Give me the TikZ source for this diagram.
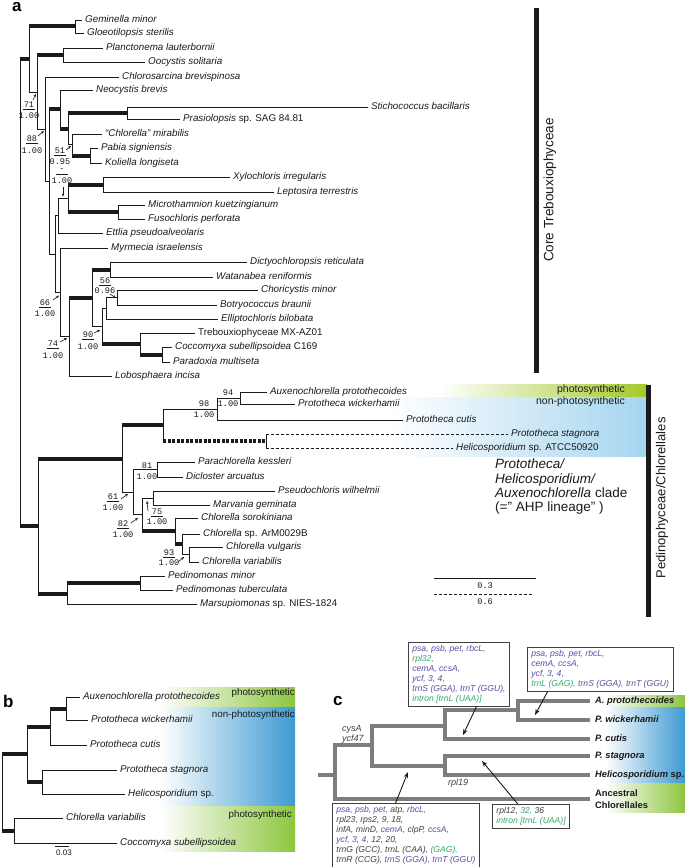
\documentclass[tikz,border=0pt]{standalone}
\usepackage{fontspec}
\setmainfont{Liberation Sans}
\newfontfamily\monof{Liberation Mono}
\usetikzlibrary{arrows.meta,calc}
\definecolor{purp}{HTML}{5A4EA2}
\definecolor{grn}{HTML}{38A96C}
\definecolor{gtx}{HTML}{404040}
\definecolor{ggreen}{HTML}{8DC63F}
\definecolor{gblue}{HTML}{3D9AD2}
\definecolor{lblue}{HTML}{A5D5F0}
\definecolor{lgreen}{HTML}{A3C928}
\definecolor{treec}{HTML}{7D7D7D}
\definecolor{ink}{HTML}{1A1A1A}
\tikzset{
  br/.style={line width=0.9pt, draw=ink},
  tk/.style={line width=4pt, draw=ink},
  tkd/.style={line width=4pt, draw=ink, dash pattern=on 3.2pt off 1.3pt},
  dsh/.style={dash pattern=on 3pt off 2pt},
  lfs/.style={anchor=west, inner xsep=3pt, inner ysep=0pt, text=ink,
    font=\fontsize{9.8}{11}\selectfont\itshape, text height=7pt, text depth=1.5pt},
  bsn/.style={font=\monof\fontsize{8.6}{9}\selectfont, inner sep=0pt, text=ink},
  bsl/.style={line width=0.5pt, draw=ink},
  bsa/.style={line width=0.6pt, draw=ink, -{Stealth[length=3pt,width=2.6pt]}},
  ctr/.style={line width=3.2pt, draw=treec},
  clf/.style={anchor=west, inner xsep=5pt, inner ysep=0pt, text=ink,
    font=\fontsize{9.3}{10.5}\selectfont\bfseries\itshape, text height=7pt, text depth=1.5pt},
  gbox/.style={draw=gtx, line width=0.8pt, anchor=north west, align=left,
    inner xsep=4pt, inner ysep=3pt, font=\fontsize{8.6}{10}\selectfont\itshape},
  carr/.style={line width=0.9pt, draw=ink, -{Stealth[length=6pt,width=4.5pt]}},
  plab/.style={anchor=base west, inner sep=0pt, font=\fontsize{17}{17}\selectfont\bfseries},
}
\newcommand\lf[5]{\coordinate (#1) at (#3,#4); \draw[br] (#2) |- (#1); \node[lfs] (#1t) at (#1) {#5};}
\newcommand\ed[2]{\draw[br] (#1) |- (#2);}
\newcommand\et[2]{\draw[br] (#1) |- (#2); \draw[tk] (#1 |- #2) -- (#2);}
\newcommand\bsu[6]{\node[bsn] (#1a) at (#2,#3) {#4}; \draw[bsl] (#2-6,#3+4.5) -- (#2+6,#3+4.5); \node[bsn] (#1b) at (#2,#5) {#6};}
\newcommand\bsp[6]{\node[bsn] (#1a) at (#2,#3) {#4}; \node[bsn] (#1b) at (#2,#5) {#6};}
\begin{document}
\begin{tikzpicture}[x=1pt,y=-1pt]
\useasboundingbox (0,0) rectangle (685,867);
\fill[white] (0,0) rectangle (685,867);
% ---------- shadings
\shade[left color=white, right color=lgreen] (440,384) rectangle (647,397);
\shade[left color=white, right color=lblue] (390,397) rectangle (647,456);
\shade[left color=white, right color=ggreen] (160,687) rectangle (295,707);
\shade[left color=white, right color=gblue] (160,707) rectangle (295,806);
\shade[left color=white, right color=ggreen] (160,806) rectangle (295,851);
\shade[left color=white, right color=ggreen] (605,695) rectangle (685,707);
\shade[left color=white, right color=gblue] (605,707) rectangle (685,783);
\shade[left color=white, right color=ggreen] (605,783) rectangle (685,812);
% ---------- panel a
\node[plab] (la) at (12,12) {a};
\coordinate (nR) at (20,292.7);
\coordinate (nA) at (29,59.3);
\coordinate (nGG) at (75,26.5);
\coordinate (nB) at (37,92.2);
\coordinate (nPO) at (63,55);
\coordinate (nC) at (45,129.35);
\coordinate (nD) at (49,181.7);
\coordinate (nE) at (60,109.4);
\coordinate (nE2) at (68,128.9);
\coordinate (nSP) at (127,113);
\coordinate (nG) at (72,144.75);
\coordinate (nPK) at (90,155.5);
\coordinate (nF) at (55,254);
\coordinate (nI) at (58,215.6);
\coordinate (nH) at (68,198.25);
\coordinate (nXL) at (103,184.5);
\coordinate (nMF) at (118,212);
\coordinate (nJ) at (60,292.4);
\coordinate (nK) at (69,336.9);
\coordinate (nL) at (92,297.75);
\coordinate (nDW) at (110,269.5);
\coordinate (nM) at (102,326);
\coordinate (nN) at (106,308.25);
\coordinate (nCB) at (117,297.5);
\coordinate (nO) at (140,343.75);
\coordinate (nCP) at (162,354.5);
\coordinate (nP) at (38,526);
\coordinate (nCHL) at (122,458.5);
\coordinate (nAHP) at (163,425);
\coordinate (nQ) at (217,409);
\coordinate (nAW) at (240,398);
\coordinate (nSH) at (266,441);
\coordinate (nN61) at (133,492);
\coordinate (nPD) at (157,469.5);
\coordinate (nN82) at (142,514.6);
\coordinate (nPM) at (153,498);
\coordinate (nSO) at (175,531.1);
\coordinate (nAV) at (182,544.25);
\coordinate (nVV) at (189,554.5);
\coordinate (nPED) at (67,593.5);
\coordinate (nPP) at (140,583);
% internal edges
\et{nR}{nA} \et{nR}{nP}
\et{nA}{nGG} \ed{nA}{nB}
\et{nB}{nPO} \ed{nB}{nC}
\ed{nC}{nD}
\et{nD}{nE} \ed{nD}{nF}
\et{nE}{nE2}
\et{nE2}{nSP} \ed{nE2}{nG}
\et{nG}{nPK}
\ed{nF}{nI} \ed{nF}{nJ}
\ed{nI}{nH}
\et{nH}{nXL} \et{nH}{nMF}
\ed{nJ}{nK}
\et{nK}{nL}
\et{nL}{nDW} \ed{nL}{nM}
\ed{nM}{nN} \et{nM}{nO}
\ed{nN}{nCB}
\et{nO}{nCP}
\et{nP}{nCHL} \et{nP}{nPED}
\et{nCHL}{nAHP} \ed{nCHL}{nN61}
\ed{nAHP}{nQ}
\draw[br] (nAHP) -- (nAHP |- nSH);
\draw[tkd] (nAHP |- nSH) -- (nSH);
\ed{nQ}{nAW}
\ed{nN61}{nPD} \ed{nN61}{nN82}
\ed{nN82}{nPM} \et{nN82}{nSO}
\et{nSO}{nAV}
\ed{nAV}{nVV}
\et{nPED}{nPP}
% leaves
\lf{gem}{nGG}{82}{20}{Geminella minor}
\lf{glo}{nGG}{84}{33}{Gloeotilopsis sterilis}
\lf{pla}{nPO}{103}{48}{Planctonema lauterbornii}
\lf{ooc}{nPO}{145}{62}{Oocystis solitaria}
\lf{chs}{nC}{119}{77}{Chlorosarcina brevispinosa}
\lf{neo}{nE}{93}{90}{Neocystis brevis}
\lf{sti}{nSP}{368}{107}{Stichococcus bacillaris}
\lf{pra}{nSP}{180}{119}{Prasiolopsis\textup{ sp. SAG 84.81}}
\lf{mir}{nG}{102}{134}{“Chlorella” mirabilis}
\lf{pab}{nPK}{98}{148}{Pabia signiensis}
\lf{kol}{nPK}{102}{163}{Koliella longiseta}
\lf{xyl}{nXL}{230}{177}{Xylochloris irregularis}
\lf{lep}{nXL}{274}{192}{Leptosira terrestris}
\lf{mic}{nMF}{145}{205}{Microthamnion kuetzingianum}
\lf{fus}{nMF}{145}{219}{Fusochloris perforata}
\lf{ett}{nI}{103}{233}{Ettlia pseudoalveolaris}
\lf{myr}{nJ}{108}{248}{Myrmecia israelensis}
\lf{dic}{nDW}{247}{262}{Dictyochloropsis reticulata}
\lf{wat}{nDW}{213}{277}{Watanabea reniformis}
\lf{cho}{nCB}{258}{290}{Choricystis minor}
\lf{bot}{nCB}{217}{305}{Botryococcus braunii}
\lf{ell}{nN}{218}{319}{Elliptochloris bilobata}
\lf{mxa}{nO}{195}{333}{\textup{Trebouxiophyceae MX-AZ01}}
\lf{coc}{nCP}{172}{347}{Coccomyxa subellipsoidea\textup{ C169}}
\lf{par}{nCP}{170}{362}{Paradoxia multiseta}
\lf{lob}{nK}{112}{376}{Lobosphaera incisa}
\lf{aux}{nAW}{267}{392}{Auxenochlorella protothecoides}
\lf{pwi}{nAW}{295}{404}{Prototheca wickerhamii}
\lf{pcu}{nQ}{403}{420}{Prototheca cutis}
\coordinate (sta) at (508,434);
\coordinate (hel) at (453,448);
\draw[br] (nSH |- sta) -- (nSH |- hel);
\draw[br,dsh] (nSH |- sta) -- (sta);
\draw[br,dsh] (nSH |- hel) -- (hel);
\node[lfs] (stat) at (sta) {Prototheca stagnora};
\node[lfs] (helt) at (hel) {Helicosporidium\textup{ sp. ATCC50920}};
\lf{pke}{nPD}{195}{462}{Parachlorella kessleri}
\lf{dcl}{nPD}{183}{477}{Dicloster arcuatus}
\lf{pse}{nPM}{275}{491}{Pseudochloris wilhelmii}
\lf{mar}{nPM}{210}{505}{Marvania geminata}
\lf{sor}{nSO}{198}{518}{Chlorella sorokiniana}
\lf{arm}{nAV}{200}{534}{Chlorella\textup{ sp. ArM0029B}}
\lf{vul}{nVV}{223}{547}{Chlorella vulgaris}
\lf{var}{nVV}{199}{562}{Chlorella variabilis}
\lf{pmi}{nPP}{165}{576}{Pedinomonas minor}
\lf{ptu}{nPP}{173}{590}{Pedinomonas tuberculata}
\lf{msp}{nPED}{197}{604}{Marsupiomonas\textup{ sp. NIES-1824}}
% support values
\bsu{s71}{29}{105}{71}{116}{1.00}
\draw[bsa] (33,100) -- (36,94);
\bsu{s88}{32}{139}{88}{151}{1.00}
\draw[bsa] (38,136) -- (44,131);
\bsu{s51}{60}{150.5}{51}{161.5}{0.95}
\draw[bsa] (66,150) -- (71,146);
\bsu{s00}{62}{170}{-}{181}{1.00}
\draw[bsa] (63,187) -- (63,196.5);
\bsu{s66}{45}{303}{66}{314}{1.00}
\draw[bsa] (53,300) -- (59,295.5);
\bsu{s74}{53}{344}{74}{356}{1.00}
\draw[bsa] (60,342) -- (67,338);
\bsu{s90}{88}{335}{90}{347}{1.00}
\draw[bsa] (94,333) -- (100,330);
\bsu{s56}{105}{281}{56}{291}{0.96}
\draw[bsa] (110,294) -- (116,298);
\bsp{s98}{204}{404}{98}{415}{1.00}
\bsp{s94}{228}{393}{94}{404}{1.00}
\bsp{s81}{147}{466}{81}{477}{1.00}
\bsu{s61}{113}{497}{61}{508}{1.00}
\draw[bsa] (121,499) -- (128,494);
\bsu{s82}{123}{524}{82}{535}{1.00}
\draw[bsa] (131,523) -- (138,518);
\bsu{s75}{157}{512}{75}{522}{1.00}
\draw[bsa] (148,511) -- (147,501);
\bsu{s93}{169}{553}{93}{563}{1.00}
\draw[bsa] (178,562) -- (184,557);
% group bars and labels
\draw[line width=5pt, draw=ink] (536,8) -- (536,373);
\node[rotate=90, font=\fontsize{13.5}{14}\selectfont, inner sep=0pt, text=ink] (coreT) at (550,190) {Core Trebouxiophyceae};
\draw[line width=5pt, draw=ink] (648,385) -- (648,617);
\node[rotate=90, font=\fontsize{13}{14}\selectfont, inner sep=0pt, text=ink] (pedC) at (662,498) {Pedinophyceae/Chlorellales};
\node[anchor=east, inner sep=0pt, font=\fontsize{10.5}{11}\selectfont, text=ink] (ph1) at (625,390) {photosynthetic};
\node[anchor=east, inner sep=0pt, font=\fontsize{10.5}{11}\selectfont, text=ink] (nph1) at (625,402) {non-photosynthetic};
\node[anchor=north west, align=left, inner sep=0pt, font=\fontsize{13.5}{14.3}\selectfont, text=ink] (ahp) at (495,459)
  {\textit{Prototheca/}\\\textit{Helicosporidium/}\\\textit{Auxenochlorella} clade\\(=" AHP lineage" )};
% scale bars
\coordinate (sb1) at (434,578); \coordinate (sb2) at (536,578);
\draw[br] (sb1) -- (sb2);
\node[bsn] (sbt1) at (485,586) {0.3};
\coordinate (sb3) at (434,594); \coordinate (sb4) at (534,594);
\draw[br,dsh] (sb3) -- (sb4);
\node[bsn] (sbt2) at (485,602) {0.6};
% ---------- panel b
\node[plab] (lb) at (3,707) {b};
\coordinate (bR) at (2,792);
\coordinate (bN1) at (27,754.4);
\coordinate (bN2) at (50,726.75);
\coordinate (bN3) at (66,708.5);
\coordinate (bN4) at (42,782);
\coordinate (bN5) at (14,830.5);
\et{bR}{bN1} \et{bR}{bN5}
\et{bN1}{bN2} \et{bN1}{bN4}
\et{bN2}{bN3}
\lf{baux}{bN3}{80}{697}{Auxenochlorella protothecoides}
\lf{bpwi}{bN3}{88}{720}{Prototheca wickerhamii}
\lf{bpcu}{bN2}{87}{745}{Prototheca cutis}
\lf{bpst}{bN4}{117}{770}{Prototheca stagnora}
\lf{bhel}{bN4}{125}{794}{Helicosporidium\textup{ sp.}}
\lf{bcva}{bN5}{63}{818}{Chlorella variabilis}
\lf{bcoc}{bN5}{117}{843}{Coccomyxa subellipsoidea}
\coordinate (bs1) at (55,846); \coordinate (bs2) at (69,846);
\draw[br] (bs1) -- (bs2);
\node[inner sep=0pt, font=\fontsize{8}{8}\selectfont, text=ink] (bst) at (64,853) {0.03};
\node[anchor=east, inner sep=0pt, font=\fontsize{9.8}{11}\selectfont, text=ink] (ph2) at (295,693) {photosynthetic};
\node[anchor=east, inner sep=0pt, font=\fontsize{9.8}{11}\selectfont, text=ink] (nph2) at (295,715) {non-photosynthetic};
\node[anchor=east, inner sep=0pt, font=\fontsize{9.8}{11}\selectfont, text=ink] (ph3) at (292,815) {photosynthetic};
% ---------- panel c
\node[plab] (lc) at (333,705) {c};
\coordinate (c0) at (318,775);
\coordinate (cA) at (335,775);
\coordinate (cN2) at (372,745);
\coordinate (cN3) at (445,726);
\coordinate (cN4) at (518,710);
\coordinate (cN5) at (445,766);
\coordinate (capr) at (590,701);
\coordinate (cpwi) at (590,720);
\coordinate (cpcu) at (590,739);
\coordinate (cpst) at (590,756);
\coordinate (chel) at (590,775);
\coordinate (canc) at (590,799);
\draw[ctr] (c0) -- (cA);
\draw[ctr] (cA) |- (cN2);
\draw[ctr] (cA) |- (canc);
\draw[ctr] (cN2) |- (cN3);
\draw[ctr] (cN2) |- (cN5);
\draw[ctr] (cN3) |- (cN4);
\draw[ctr] (cN3) |- (cpcu);
\draw[ctr] (cN4) |- (capr);
\draw[ctr] (cN4) |- (cpwi);
\draw[ctr] (cN5) |- (cpst);
\draw[ctr] (cN5) |- (chel);
\node[clf] (caprt) at (capr) {A. protothecoides};
\node[clf] (cpwit) at (cpwi) {P. wickerhamii};
\node[clf] (cpcut) at (cpcu) {P. cutis};
\node[clf] (cpstt) at (cpst) {P. stagnora};
\node[clf] (chelt) at (chel) {Helicosporidium\textup{ sp.}};
\node[anchor=west, inner xsep=5pt, inner ysep=0pt, align=left, text=ink,
  font=\fontsize{9.3}{12}\selectfont\bfseries] (cancl) at (canc) {Ancestral\\Chlorellales};
\node[anchor=west, inner sep=0pt, align=left, text=gtx, font=\fontsize{9}{10}\selectfont\itshape] (cys) at (342,734) {cysA\\ycf47};
\node[anchor=west, inner sep=0pt, text=gtx, font=\fontsize{9}{10}\selectfont\itshape] (r19) at (448,783) {rpl19};
% boxes
\node[gbox] (bx1) at (408,642) {\textcolor{purp}{psa, psb, pet, rbcL,}\\
  \textcolor{grn}{rpl32,}\\
  \textcolor{purp}{cemA, ccsA,}\\
  \textcolor{purp}{ycf, 3, 4,}\\
  \textcolor{purp}{trnS (GGA), trnT (GGU),}\\
  \textcolor{grn}{intron [trnL (UAA)]}};
\node[gbox] (bx2) at (527,647) {\textcolor{purp}{psa, psb, pet, rbcL,}\\
  \textcolor{purp}{cemA, ccsA,}\\
  \textcolor{purp}{ycf, 3, 4,}\\
  \textcolor{grn}{trnL (GAG),} \textcolor{purp}{trnS (GGA), trnT (GGU)}};
\node[gbox] (bx3) at (332,803) {\textcolor{purp}{psa, psb, pet,} \textcolor{gtx}{atp,} \textcolor{purp}{rbcL,}\\
  \textcolor{gtx}{rpl23, rps2, 9, 18,}\\
  \textcolor{gtx}{infA, minD,} \textcolor{purp}{cemA,} \textcolor{gtx}{clpP,} \textcolor{purp}{ccsA,}\\
  \textcolor{purp}{ycf, 3, 4,} \textcolor{gtx}{12, 20,}\\
  \textcolor{gtx}{trnG (GCC), trnL (CAA),} \textcolor{grn}{(GAG),}\\
  \textcolor{gtx}{trnR (CCG),} \textcolor{purp}{trnS (GGA), trnT (GGU)}};
\node[gbox] (bx4) at (492,804) {\textcolor{gtx}{rpl12,} \textcolor{grn}{32,} \textcolor{gtx}{36}\\
  \textcolor{grn}{intron [trnL (UAA)]}};
\coordinate (t1) at (463,735);
\coordinate (t2) at (535,715);
\coordinate (t3) at (408,772);
\coordinate (t4) at (482,761);
\draw[carr] ($(bx1.south west)!0.67!(bx1.south east)$) -- (t1);
\draw[carr] ($(bx2.south west)!0.14!(bx2.south east)$) -- (t2);
\draw[carr] ($(bx3.north west)!0.43!(bx3.north east)$) -- (t3);
\draw[carr] ($(bx4.north west)!0.33!(bx4.north east)$) -- (t4);
\end{tikzpicture}
\end{document}
